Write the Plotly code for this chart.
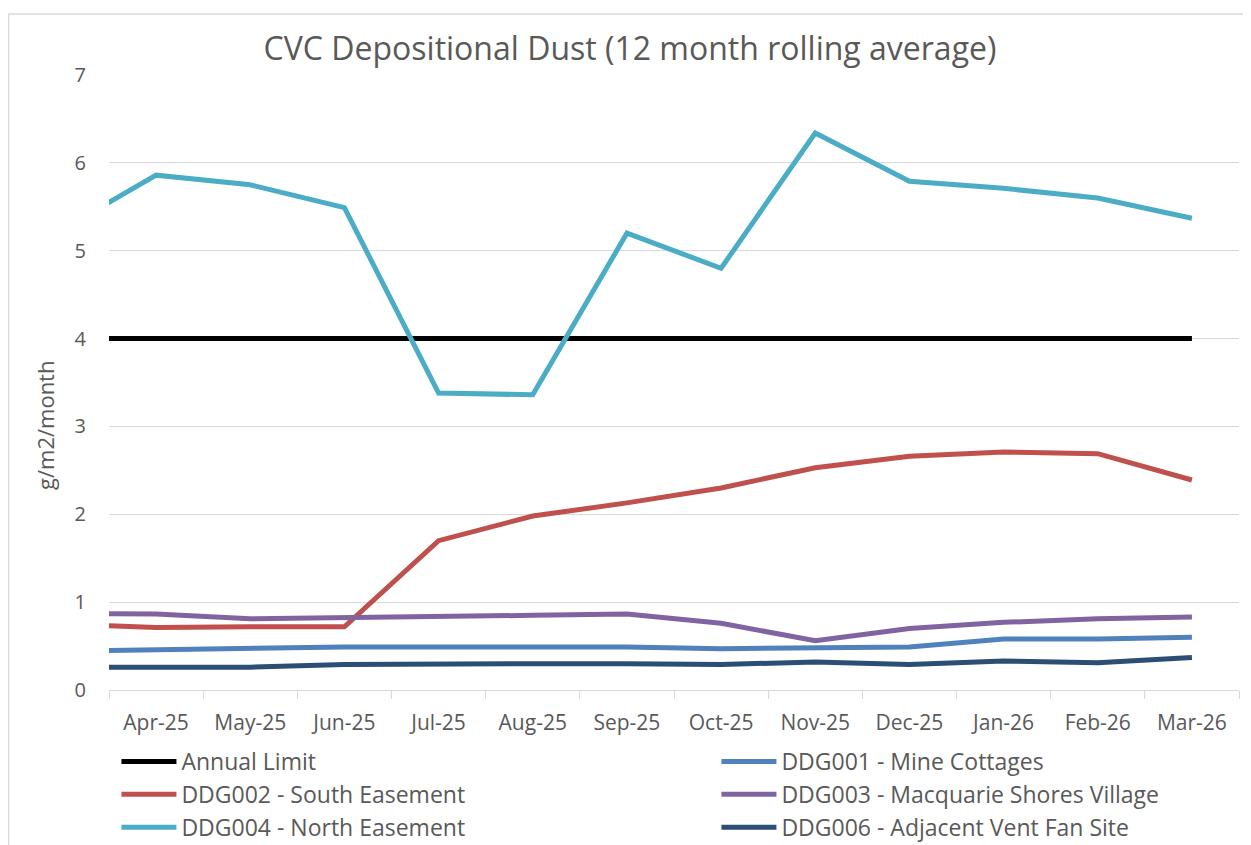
import plotly.graph_objects as go

months = ["Mar-25", "Apr-25", "May-25", "Jun-25", "Jul-25", "Aug-25", "Sep-25",
          "Oct-25", "Nov-25", "Dec-25", "Jan-26", "Feb-26", "Mar-26"]

annual_limit = [4, 4, 4, 4, 4, 4, 4, 4, 4, 4, 4, 4, 4]
ddg001 = [0.44, 0.455, 0.48, 0.49, 0.49, 0.49, 0.49, 0.47, 0.48, 0.49, 0.58, 0.58, 0.60]
ddg002 = [0.75, 0.71, 0.72, 0.72, 1.70, 1.98, 2.13, 2.30, 2.53, 2.66, 2.71, 2.69, 2.39]
ddg003 = [0.87, 0.865, 0.81, 0.82, 0.83, 0.85, 0.865, 0.76, 0.56, 0.70, 0.77, 0.81, 0.83]
ddg004 = [5.24, 5.86, 5.75, 5.49, 3.38, 3.36, 5.20, 4.80, 6.34, 5.79, 5.71, 5.60, 5.37]
ddg006 = [0.26, 0.26, 0.26, 0.29, 0.30, 0.30, 0.30, 0.29, 0.32, 0.29, 0.33, 0.31, 0.37]

series = [
    ("Annual Limit", annual_limit, "#000000"),
    ("DDG001 - Mine Cottages", ddg001, "#4F81BD"),
    ("DDG002 - South Easement", ddg002, "#C0504D"),
    ("DDG003 - Macquarie Shores Village", ddg003, "#8064A2"),
    ("DDG004 - North Easement", ddg004, "#4BACC6"),
    ("DDG006 - Adjacent Vent Fan Site", ddg006, "#2C4D75"),
]

FONT = "Open Sans"
GREY = "#595959"

fig = go.Figure()
for name, vals, col in series:
    fig.add_trace(go.Scatter(x=months, y=vals, name=name, mode="lines",
                             line=dict(color=col, width=5)))

# the page body adds an 8px margin, so the figure is offset by 8px
OFF = 8
W, H = 1251 - OFF, 845 - OFF
PL, PR, PT, PB = 109, 1239, 75, 690          # plot area in page pixels
L, R, T, B = PL - OFF, 1251 - PR, PT - OFF, H - (PB - OFF)

def px(x):
    return (x - PL) / (PR - PL)

def py(y):
    return (PB - y) / (PB - PT)

fig.update_layout(
    width=W, height=H,
    margin=dict(l=L, r=R, t=T, b=B, autoexpand=False),
    paper_bgcolor="white", plot_bgcolor="white",
    font=dict(family=FONT, color=GREY, size=20),
    title=dict(text="CVC Depositional Dust (12 month rolling average)",
               xref="container", x=(630 - OFF) / W, xanchor="center",
               yref="container", y=1 - (49 - OFF) / H, yanchor="middle",
               font=dict(size=32, color=GREY, family=FONT)),
    xaxis=dict(type="category", categoryorder="array", categoryarray=months,
               range=[0.5, 12.5], tickson="boundaries", ticks="outside",
               ticklen=8, tickcolor="#D9D9D9", tickwidth=1.3,
               showline=True, linecolor="#D9D9D9", linewidth=1.3,
               showgrid=False, ticklabelstandoff=14,
               tickfont=dict(size=21, color=GREY)),
    yaxis=dict(range=[0, 7], dtick=1, showgrid=True, gridcolor="#D9D9D9",
               gridwidth=1.3, zeroline=False, showline=False,
               ticklabelstandoff=22, tickfont=dict(size=20, color=GREY)),
    legend=dict(orientation="h", x=-0.0005, xanchor="left",
                y=py(732), yanchor="top", entrywidth=530, itemwidth=55,
                borderwidth=8, bordercolor="rgba(0,0,0,0)",
                font=dict(size=23, color=GREY, family=FONT),
                traceorder="normal", bgcolor="rgba(0,0,0,0)"),
    showlegend=True,
)

fig.add_annotation(text="g/m2/month", xref="paper", yref="paper",
                   x=px(45), y=py(426), xanchor="center", yanchor="middle",
                   textangle=-90, showarrow=False,
                   font=dict(size=22, color=GREY, family=FONT))

fig.add_shape(type="rect", xref="paper", yref="paper",
              x0=px(8.6), x1=px(1247), y0=py(870), y1=py(14),
              line=dict(color="#D9D9D9", width=1.3), layer="below")

fig.write_html("out.html")
